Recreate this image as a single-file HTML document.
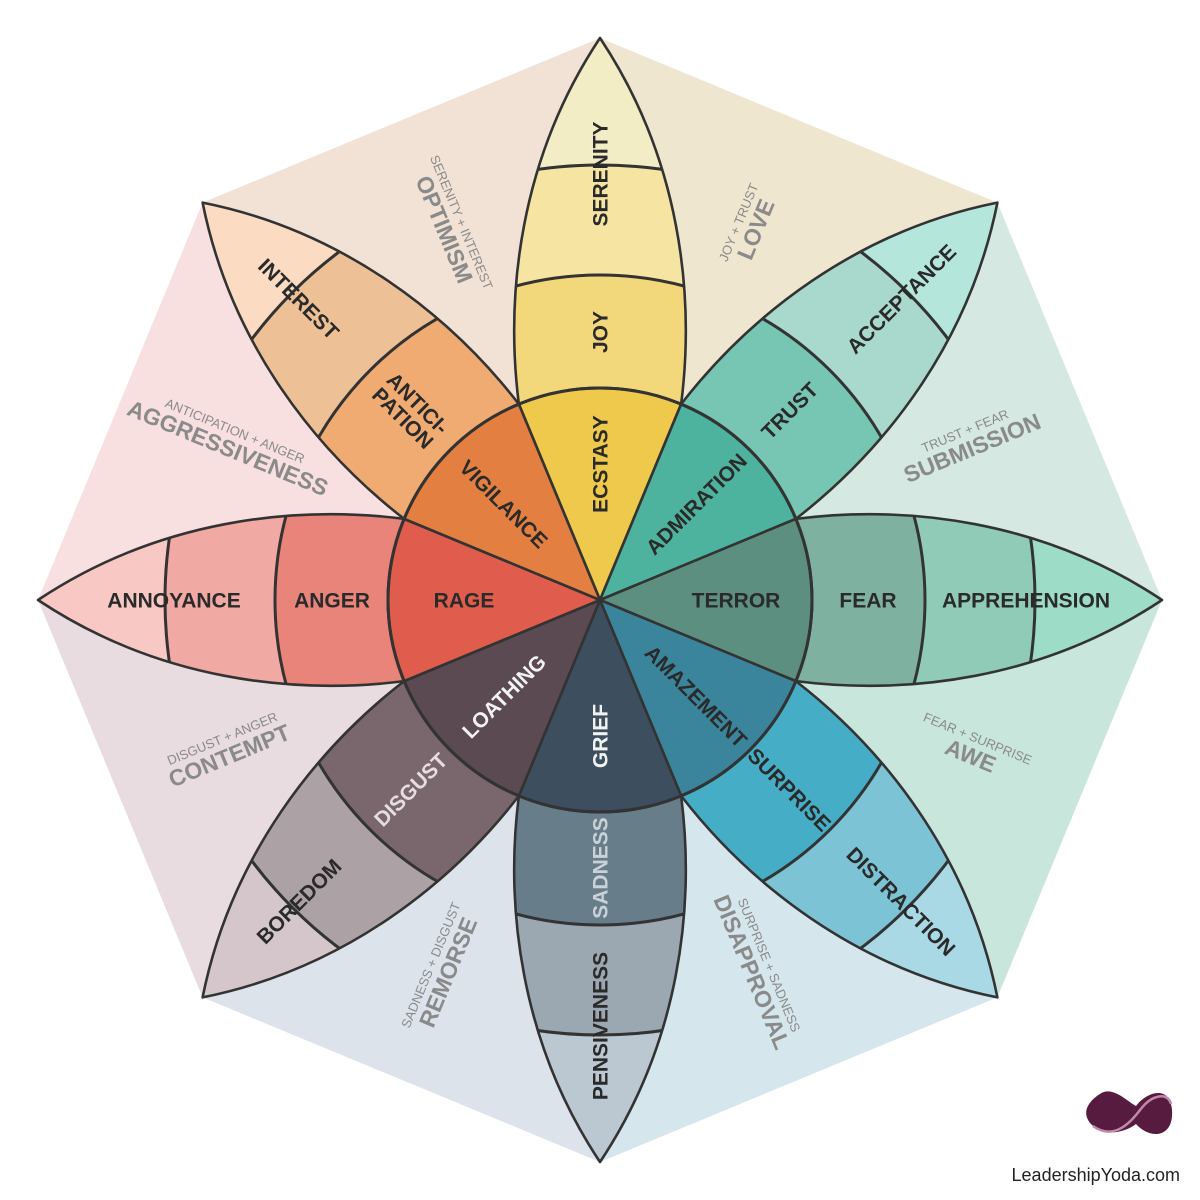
<!DOCTYPE html>
<html><head><meta charset="utf-8">
<style>
html,body{margin:0;padding:0;background:#fff;width:1200px;height:1200px;overflow:hidden}
svg{display:block}
text{font-family:"Liberation Sans",sans-serif}
</style></head>
<body>
<svg id="wheel" width="1200" height="1200" viewBox="0 0 1200 1200" xmlns="http://www.w3.org/2000/svg">
<g id="bg"></g>
<g id="petals"></g>
<g id="dyads"></g>
<g id="logo">
  <path d="M1100,1094 C1112,1085 1128,1102 1136,1106 C1146,1092 1170,1084 1172,1110 C1174,1138 1150,1140 1136,1124 C1126,1132 1104,1138 1091,1124 C1080,1112 1090,1100 1100,1094 Z" fill="#561b3e"/>
  <path d="M1093,1126 C1110,1138 1125,1130 1140,1110 C1152,1094 1168,1092 1171,1104" fill="none" stroke="#c08aa8" stroke-width="2.5"/>
  <text x="1180" y="1181" font-size="18" fill="#222" text-anchor="end">LeadershipYoda.com</text>
</g>
</svg>
<script>
const petalNames = ["joy","trust","fear","surprise","sadness","disgust","anger","anticipation"];
const innerLabels = ["ECSTASY","ADMIRATION","TERROR","AMAZEMENT","GRIEF","LOATHING","RAGE","VIGILANCE"];
const midLabels = ["JOY","TRUST","FEAR","SURPRISE","SADNESS","DISGUST","ANGER","ANTICI-|PATION"];
const outerLabels = ["SERENITY","ACCEPTANCE","APPREHENSION","DISTRACTION","PENSIVENESS","BOREDOM","ANNOYANCE","INTEREST"];
const innerColors = ["#efc94b","#4db39e","#5d8f80","#3a859c","#3d4e5e","#5b4a52","#e05d4e","#e47f42"];
const midColors = ["#f3d77b","#77c6b3","#7fb1a1","#45aec6","#687d8a","#7a676d","#e8847a","#f0ab72"];
const outerColors = ["#f6e4a2","#a8d9cc","#8fcbb6","#7cc3d6","#9ba8b1","#aca1a5","#f0aaa3","#eec096"];
const tipColors = ["#f3edc6","#b5e6dc","#9ddcc6","#a9d9e5","#bcc8d1","#d4c6cb","#f8c8c4","#fbdcc3"];
const innerText = ["#2a2a2a","#2a2a2a","#2a2a2a","#2a2a2a","#f2f2f2","#f2f2f2","#2a2a2a","#2a2a2a"];
const midText = ["#2a2a2a","#2a2a2a","#2a2a2a","#2a2a2a","#c9d2d8","#e6dde0","#2a2a2a","#2a2a2a"];
const dyadSmall = ["JOY + TRUST","TRUST + FEAR","FEAR + SURPRISE","SURPRISE + SADNESS","SADNESS + DISGUST","DISGUST + ANGER","ANTICIPATION + ANGER","SERENITY + INTEREST"];
const dyadBig = ["LOVE","SUBMISSION","AWE","DISAPPROVAL","REMORSE","CONTEMPT","AGGRESSIVENESS","OPTIMISM"];
const sectorColors = ["#efe6d0","#d5e8e2","#c8e6dc","#d5e6ec","#dde3eb","#e8dce1","#f8dfe0","#f1e2d5"];
const bandRadii = [212, 325, 435, 562];

const NS="http://www.w3.org/2000/svg", C=600;
function el(tag, attrs, parent){const e=document.createElementNS(NS,tag);for(const k in attrs)e.setAttribute(k,attrs[k]);parent.appendChild(e);return e;}
function pt(angleDeg, r){const a=angleDeg*Math.PI/180;return [C+r*Math.sin(a), C-r*Math.cos(a)];}
function rot(a){let r=a-90;while(r>=90)r-=180;while(r<-90)r+=180;return r;}

const bg=document.getElementById('bg');
sectorColors.forEach((col,i)=>{
  const p1=pt(i*45,bandRadii[3]), p2=pt((i+1)*45,bandRadii[3]);
  const t=el('polygon',{points:`${C},${C} ${p1} ${p2}`,fill:col},bg);
  
  
});

const petals=document.getElementById('petals');
const R=bandRadii[3], r0=bandRadii[0];
const hx=r0*Math.sin(22.5*Math.PI/180), hy=r0*Math.cos(22.5*Math.PI/180);
const petalPath=`M0,0 L${-hx},${-hy} C${-hx-14},${-hy-110} -80,${-R+120} 0,${-R} C80,${-R+120} ${hx+14},${-hy-110} ${hx},${-hy} Z`;
const defs=el('defs',{},petals);
petalNames.forEach((n,i)=>{
  const a=i*45;
  const g=el('g',{transform:`translate(${C},${C}) rotate(${a})`},petals);
  
  
  const cp=el('clipPath',{id:'cp'+i},defs);
  el('path',{d:petalPath},cp);
  const inner=el('g',{'clip-path':`url(#cp${i})`},g);
  el('path',{d:petalPath,fill:tipColors[i]},inner);
  el('circle',{cx:0,cy:0,r:bandRadii[2],fill:outerColors[i],stroke:'#333','stroke-width':3},inner);
  el('circle',{cx:0,cy:0,r:bandRadii[1],fill:midColors[i],stroke:'#333','stroke-width':3},inner);
  el('circle',{cx:0,cy:0,r:bandRadii[0],fill:innerColors[i],stroke:'#333','stroke-width':3},inner);
  el('path',{d:petalPath,fill:'none',stroke:'#333','stroke-width':2.6,'stroke-linejoin':'round'},g);
});
el('circle',{cx:C,cy:C,r:r0,fill:'none',stroke:'#333','stroke-width':3},petals);

function label(txt,a,r,size,color,name){
  const [x,y]=pt(a,r);
  const lines=txt.split('|');
  const t=el('text',{x:x,y:y,'font-size':size,fill:color,'text-anchor':'middle','font-weight':'bold',
    transform:`rotate(${rot(a)},${x},${y})`},petals);
  
  
  lines.forEach((l,k)=>{el('tspan',{x:x,dy:k===0?(size*0.36-(lines.length-1)*size*0.5):size*1.0},t).textContent=l;});
}
petalNames.forEach((n,i)=>{
  const a=i*45;
  label(innerLabels[i],a,136,21,innerText[i],'label-'+innerLabels[i].toLowerCase());
  label(midLabels[i],a,268,21,midText[i],'label-'+n);
  label(outerLabels[i],a,426,21,'#2a2a2a','label-'+outerLabels[i].toLowerCase());
});

const dy=document.getElementById('dyads');
dyadBig.forEach((b,i)=>{
  const a=i*45+22.5;
  const [x,y]=pt(a,402);
  const g=el('g',{transform:`rotate(${rot(a)},${x},${y})`},dy);
  
  
  el('text',{x:x,y:y-12,'font-size':13,fill:'#8a8a8a','text-anchor':'middle'},g).textContent=dyadSmall[i];
  el('text',{x:x,y:y+10,'font-size':23,fill:'#8a8a8a','text-anchor':'middle','font-weight':'bold'},g).textContent=b;
});
</script>
</body></html>
